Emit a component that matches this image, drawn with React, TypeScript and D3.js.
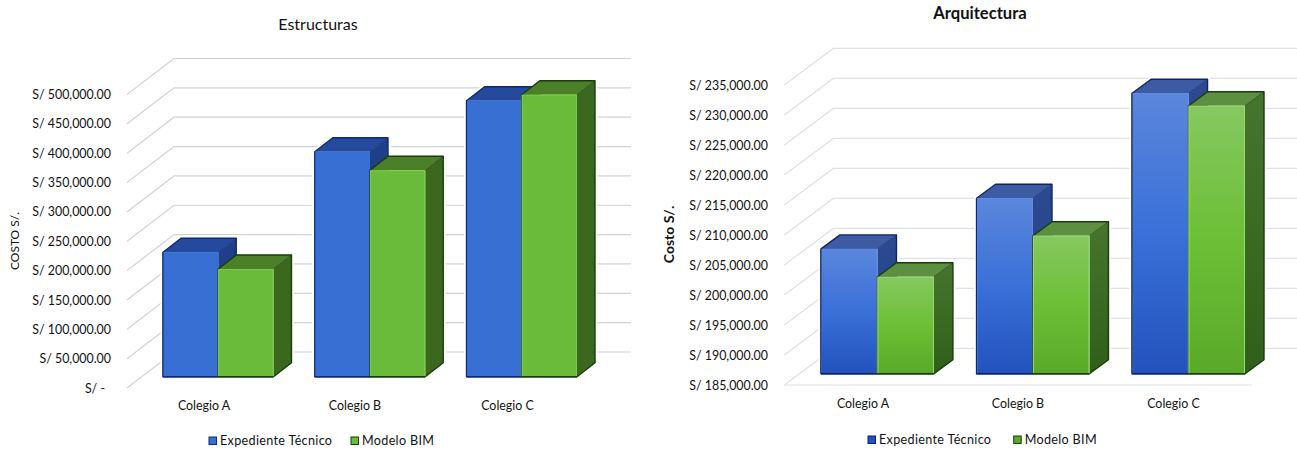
import React from "react";
import * as d3 from "d3";

// Cost per school, one list per discipline and per source.
const categories = ["Colegio A", "Colegio B", "Colegio C"];
const seriesNames = ["Expediente Técnico", "Modelo BIM"];

const estructurasExpediente = [211900, 383300, 470000];
const estructurasModelo = [183500, 351600, 480400];
const estructurasTicks = [0, 50000, 100000, 150000, 200000, 250000, 300000, 350000, 400000, 450000, 500000];

const arquitecturaExpediente = [205800, 214250, 231750];
const arquitecturaModelo = [201150, 208000, 229650];
const arquitecturaTicks = [185000, 190000, 195000, 200000, 205000, 210000, 215000, 220000, 225000, 230000, 235000];

const FONT = "Lato, Carlito, sans-serif";
const money = d3.format(",.2f");

type Palette = { front: string[]; side: [string, string]; top: string; edge: string; bevel: string };

const flatPalette: Palette[] = [
  { front: ["#376fd3", "#376fd3"], side: ["#1f3f88", "#1f3f88"], top: "#25499c", edge: "#0f2a72", bevel: "#376fd3" },
  { front: ["#6bbb3a", "#6bbb3a"], side: ["#3b671f", "#3b671f"], top: "#4b8029", edge: "#183c0c", bevel: "#7ccb4c" },
];
const shadedPalette: Palette[] = [
  { front: ["#5b86dc", "#3a70d8", "#2352bd"], side: ["#2d4a90", "#1f3f8c"], top: "#3d5ba3", edge: "#0d2568", bevel: "#5f8ae0" },
  { front: ["#86c860", "#6cbf35", "#5aa92a"], side: ["#47752f", "#2f5f18"], top: "#5c9040", edge: "#183c0c", bevel: "#97d870" },
];

type ChartProps = {
  id: string;
  title: string;
  titleX: number;
  titleY: number;
  titleSize: number;
  titleWeight: number;
  yTitle: string;
  yTitleX: number;
  yTitleY: number;
  yTitleSize: number;
  yTitleWeight: number;
  values: number[][];
  ticks: number[];
  frontX: number;
  wallDx: number;
  wallDy: number;
  wallEnd: number;
  wallTopY: number;
  wallBaseY: number;
  barBaseY: number;
  barsStart: number;
  barsEnd: number;
  bandPadding: number;
  depthX: number;
  depthY: number;
  labelEnd: number;
  zeroEnd: number;
  categoryCentres: number[];
  categoryY: number;
  legendY: number;
  legendSwatches: number[];
  gridColor: string;
  floorLine: boolean;
  palette: Palette[];
};

function Chart3D(p: ChartProps) {
  const wall = d3
    .scaleLinear()
    .domain([p.ticks[0], p.ticks[p.ticks.length - 1]])
    .range([p.wallBaseY, p.wallTopY]);
  const barLift = p.wallBaseY - p.barBaseY;
  const x0 = d3.scaleBand().domain(categories).range([p.barsStart, p.barsEnd]).paddingInner(p.bandPadding);
  const x1 = d3.scaleBand().domain(seriesNames).range([0, x0.bandwidth()]);

  const boxes = categories.flatMap((cat, ci) =>
    seriesNames.map((name, si) => {
      const xa = (x0(cat) as number) + (x1(name) as number);
      const xb = xa + x1.bandwidth();
      const yt = wall(p.values[si][ci]) - barLift;
      return { key: `${cat}-${si}`, si, xa, xb, yt, yb: p.barBaseY };
    })
  );
  const dx = p.depthX;
  const dy = p.depthY;
  const silhouette = (b: (typeof boxes)[number]) =>
    `M${b.xa},${b.yb}L${b.xa},${b.yt}L${b.xa + dx},${b.yt - dy}L${b.xb + dx},${b.yt - dy}L${b.xb + dx},${b.yb - dy}L${b.xb},${b.yb}Z`;

  return (
    <g fontFamily={FONT} fill="#111">
      <defs>
        {p.palette.map((c, i) => (
          <React.Fragment key={i}>
            <linearGradient id={`${p.id}-front-${i}`} x1="0" y1="0" x2="0" y2="1">
              {c.front.map((color, k) => (
                <stop key={k} offset={k / (c.front.length - 1)} stopColor={color} />
              ))}
            </linearGradient>
            <linearGradient id={`${p.id}-side-${i}`} x1="0" y1="0" x2="0" y2="1">
              <stop offset="0" stopColor={c.side[0]} />
              <stop offset="1" stopColor={c.side[1]} />
            </linearGradient>
          </React.Fragment>
        ))}
      </defs>

      <text x={p.titleX} y={p.titleY} textAnchor="middle" fontSize={p.titleSize} fontWeight={p.titleWeight}>
        {p.title}
      </text>
      <text
        transform={`translate(${p.yTitleX},${p.yTitleY}) rotate(-90)`}
        textAnchor="middle"
        fontSize={p.yTitleSize}
        fontWeight={p.yTitleWeight}
      >
        {p.yTitle}
      </text>

      {/* wall lines: the slanted run along the side, then the straight run along the back */}
      {p.ticks.map((t) => (
        <polyline
          key={t}
          points={`${p.frontX},${wall(t)} ${p.frontX + p.wallDx},${wall(t) - p.wallDy} ${p.wallEnd},${wall(t) - p.wallDy}`}
          fill="none"
          stroke={p.gridColor}
          strokeWidth={1.2}
        />
      ))}
      {p.floorLine && (
        <line
          x1={p.frontX}
          x2={p.barsEnd + 7}
          y1={wall(p.ticks[0])}
          y2={wall(p.ticks[0])}
          stroke={p.gridColor}
          strokeWidth={1.2}
        />
      )}

      {p.ticks.map((t) => (
        <text
          key={t}
          x={t === 0 ? p.zeroEnd : p.labelEnd}
          y={wall(t) + 0.5}
          dy="0.33em"
          textAnchor="end"
          fontSize={12.4}
        >
          {t === 0 ? "S/ -" : `S/ ${money(t)}`}
        </text>
      ))}

      {/* white margin that keeps the wall lines clear of the columns */}
      {boxes.map((b) => (
        <path key={b.key} d={silhouette(b)} fill="#fff" stroke="#fff" strokeWidth={5} />
      ))}

      {boxes.map((b) => {
        const c = p.palette[b.si];
        return (
          <g key={b.key}>
            <path
              d={`M${b.xb},${b.yt}L${b.xb + dx},${b.yt - dy}L${b.xb + dx},${b.yb - dy}L${b.xb},${b.yb}Z`}
              fill={`url(#${p.id}-side-${b.si})`}
            />
            <path
              d={`M${b.xa},${b.yt}L${b.xa + dx},${b.yt - dy}L${b.xb + dx},${b.yt - dy}L${b.xb},${b.yt}Z`}
              fill={c.top}
            />
            <path d={silhouette(b)} fill="none" stroke={c.edge} strokeWidth={1.4} strokeLinejoin="round" />
            <path d={`M${b.xb},${b.yt}L${b.xb + dx},${b.yt - dy}`} stroke={c.edge} strokeWidth={0.7} />
            <rect
              x={b.xa}
              y={b.yt}
              width={b.xb - b.xa}
              height={b.yb - b.yt}
              fill={`url(#${p.id}-front-${b.si})`}
            />
            <path
              d={`M${b.xa + 0.5},${b.yb}L${b.xa + 0.5},${b.yt + 0.5}L${b.xb - 0.5},${b.yt + 0.5}L${b.xb - 0.5},${b.yb}`}
              fill="none"
              stroke={c.bevel}
              strokeWidth={1}
            />
            <line x1={b.xa} x2={b.xb} y1={b.yb} y2={b.yb} stroke={c.edge} strokeWidth={1.4} />
            {b.si === 0 && <line x1={b.xa} x2={b.xa} y1={b.yt} y2={b.yb} stroke={c.edge} strokeWidth={1} />}
          </g>
        );
      })}

      {categories.map((cat, i) => (
        <text key={cat} x={p.categoryCentres[i]} y={p.categoryY} textAnchor="middle" fontSize={12.4}>
          {cat}
        </text>
      ))}

      {seriesNames.map((name, i) => (
        <g key={name}>
          <rect
            x={p.legendSwatches[i]}
            y={p.legendY - 7.5}
            width={7.5}
            height={7.5}
            fill={p.palette[i].front[p.palette[i].front.length - 1]}
            stroke={p.palette[i].edge}
            strokeWidth={1}
          />
          <text x={p.legendSwatches[i] + 11} y={p.legendY} fontSize={12.6} letterSpacing={0.32}>
            {name}
          </text>
        </g>
      ))}
    </g>
  );
}

export default function App() {
  return (
    <svg
      width={1297}
      height={450}
      viewBox="0 0 1297 450"
      style={{ position: "absolute", left: 0, top: 0, display: "block", background: "#fff" }}
    >
      <Chart3D
        id="estructuras"
        title="Estructuras"
        titleX={318}
        titleY={30}
        titleSize={16}
        titleWeight={400}
        yTitle="COSTO S/."
        yTitleX={19}
        yTitleY={241}
        yTitleSize={12}
        yTitleWeight={400}
        values={[estructurasExpediente, estructurasModelo]}
        ticks={estructurasTicks}
        frontX={127}
        wallDx={47}
        wallDy={36}
        wallEnd={631}
        wallTopY={94.5}
        wallBaseY={388}
        barBaseY={376.7}
        barsStart={163}
        barsEnd={577}
        bandPadding={0.272}
        depthX={18}
        depthY={14}
        labelEnd={111}
        zeroEnd={105}
        categoryCentres={[204, 355, 507.5]}
        categoryY={409.5}
        legendY={444.5}
        legendSwatches={[209, 351]}
        gridColor="#d2d2d2"
        floorLine={false}
        palette={flatPalette}
      />
      <Chart3D
        id="arquitectura"
        title="Arquitectura"
        titleX={980}
        titleY={18.5}
        titleSize={16.6}
        titleWeight={700}
        yTitle="Costo S/."
        yTitleX={673.5}
        yTitleY={234.5}
        yTitleSize={14}
        yTitleWeight={700}
        values={[arquitecturaExpediente, arquitecturaModelo]}
        ticks={arquitecturaTicks}
        frontX={784.3}
        wallDx={49}
        wallDy={36.6}
        wallEnd={1297}
        wallTopY={85}
        wallBaseY={385}
        barBaseY={373.7}
        barsStart={821}
        barsEnd={1245}
        bandPadding={0.274}
        depthX={19}
        depthY={14}
        labelEnd={768}
        zeroEnd={768}
        categoryCentres={[863, 1018, 1173.5]}
        categoryY={407.5}
        legendY={443.5}
        legendSwatches={[868, 1013.7]}
        gridColor="#dfe1e7"
        floorLine={true}
        palette={shadedPalette}
      />
    </svg>
  );
}
